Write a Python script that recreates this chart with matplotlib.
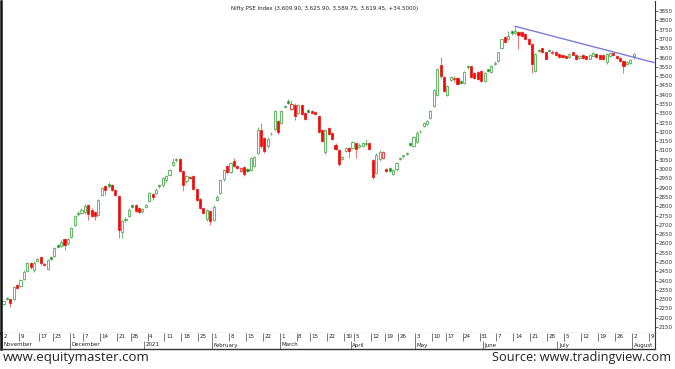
import numpy as np
import pandas as pd
import matplotlib
matplotlib.use("Agg")
import matplotlib.pyplot as plt

# ---------------- data ----------------
holidays = ["2020-11-16", "2020-11-30", "2020-12-25", "2021-01-26", "2021-03-11",
            "2021-03-29", "2021-04-02", "2021-04-14", "2021-04-21", "2021-05-13"]
special_sessions = ["2020-11-14"]  # Diwali muhurat trading
start_date = "2020-11-02"
axis_end_date = "2021-08-11"

opens = [
    # Nov
    2276, 2306, 2299, 2300, 2374, 2372, 2408, 2452, 2494, 2455, 2508, 2526, 2490, 2464, 2525, 2532, 2592, 2588, 2622, 2600,
    # Dec
    2637, 2700, 2766, 2764, 2768, 2805, 2782, 2768, 2752, 2860, 2907, 2922, 2915, 2886, 2857, 2664, 2724, 2750, 2805, 2808, 2790, 2772,
    # Jan
    2795, 2830, 2866, 2870, 2916, 2912, 2940, 2968, 3022, 3046, 3052, 2988, 2935, 2958, 2960, 2892, 2838, 2790, 2730, 2772,
    # Feb
    2728, 2836, 2872, 2944, 3018, 2985, 3042, 3019, 2992, 3011, 3000, 2997, 3018, 3088, 3208, 3168, 3122, 3190, 3214, 3258,
    # Mar
    3250, 3335, 3368, 3322, 3346, 3300, 3346, 3300, 3316, 3312, 3306, 3285, 3212, 3090, 3222, 3195, 3132, 3105, 3055, 3096, 3114,
    # Apr
    3114, 3140, 3120, 3126, 3136, 3140, 3050, 2980, 3052, 3060, 2998, 3006, 2975, 2998, 3055, 3068, 3082, 3138, 3126,
    # May
    3145, 3206, 3232, 3242, 3272, 3340, 3400, 3560, 3495, 3400, 3480, 3482, 3490, 3472, 3464, 3556, 3552, 3518, 3520, 3526,
    # Jun
    3476, 3536, 3520, 3566, 3582, 3652, 3708, 3700, 3744, 3732, 3735, 3736, 3726, 3699, 3672, 3528, 3640, 3649, 3627, 3640, 3624, 3630,
    # Jul
    3618, 3612, 3608, 3603, 3627, 3612, 3598, 3616, 3606, 3594, 3610, 3620, 3612, 3614, 3578, 3610, 3626, 3610, 3598, 3582, 3566, 3572,
    # Aug
    3609.90,
]
highs = [
    2292, 2312, 2303, 2370, 2380, 2410, 2455, 2500, 2500, 2503, 2522, 2532, 2494, 2515, 2530, 2580, 2597, 2618, 2628, 2630,
    2690, 2752, 2774, 2788, 2812, 2812, 2790, 2775, 2838, 2905, 2915, 2928, 2920, 2892, 2862, 2725, 2740, 2788, 2810, 2812, 2795, 2790,
    2812, 2878, 2870, 2896, 2922, 2958, 2966, 3000, 3062, 3060, 3058, 2995, 2970, 2964, 2966, 2898, 2845, 2795, 2784, 2778,
    2804, 2858, 2948, 3000, 3024, 3036, 3060, 3024, 3012, 3016, 3006, 3065, 3070, 3225, 3250, 3174, 3170, 3200, 3320, 3262,
    3318, 3346, 3378, 3372, 3355, 3350, 3352, 3306, 3322, 3318, 3312, 3290, 3218, 3215, 3228, 3200, 3138, 3110, 3072, 3118, 3120,
    3152, 3146, 3138, 3145, 3163, 3146, 3055, 3085, 3100, 3098, 3004, 3012, 3000, 3040, 3066, 3078, 3092, 3144, 3180,
    3202, 3212, 3252, 3262, 3320, 3432, 3545, 3605, 3500, 3452, 3500, 3500, 3496, 3478, 3526, 3562, 3556, 3522, 3526, 3532,
    3522, 3540, 3560, 3580, 3632, 3702, 3714, 3740, 3750, 3768, 3742, 3742, 3730, 3704, 3676, 3624, 3646, 3652, 3632, 3646, 3640, 3634,
    3622, 3616, 3612, 3626, 3632, 3618, 3616, 3620, 3610, 3618, 3628, 3624, 3616, 3618, 3624, 3628, 3630, 3614, 3602, 3586, 3580, 3592,
    3625.90,
]
lows = [
    2270, 2294, 2258, 2296, 2356, 2368, 2402, 2446, 2462, 2444, 2504, 2486, 2476, 2458, 2510, 2527, 2575, 2582, 2566, 2594,
    2630, 2694, 2750, 2758, 2760, 2728, 2740, 2726, 2745, 2855, 2862, 2900, 2880, 2854, 2628, 2628, 2716, 2742, 2790, 2768, 2762, 2766,
    2790, 2824, 2831, 2864, 2900, 2905, 2932, 2962, 3018, 3040, 2982, 2880, 2925, 2948, 2886, 2830, 2785, 2760, 2722, 2700,
    2722, 2830, 2866, 2938, 2975, 2978, 3010, 3002, 2988, 2965, 2984, 2992, 3012, 3080, 3115, 3085, 3114, 3182, 3205, 3188,
    3240, 3328, 3348, 3315, 3265, 3295, 3290, 3265, 3300, 3296, 3290, 3192, 3146, 3082, 3182, 3155, 3100, 3018, 3048, 3090, 3060,
    3108, 3060, 3114, 3120, 3125, 3100, 2945, 2972, 3045, 3052, 2984, 2985, 2966, 2990, 3050, 3062, 3076, 3126, 3120,
    3138, 3196, 3228, 3236, 3268, 3332, 3394, 3490, 3412, 3392, 3474, 3470, 3450, 3460, 3460, 3540, 3488, 3484, 3480, 3470,
    3468, 3520, 3515, 3562, 3578, 3648, 3676, 3694, 3720, 3726, 3645, 3712, 3696, 3668, 3519, 3522, 3630, 3622, 3590, 3628, 3620, 3606,
    3600, 3598, 3596, 3598, 3612, 3588, 3592, 3594, 3588, 3590, 3606, 3600, 3590, 3586, 3565, 3604, 3610, 3590, 3575, 3519, 3560, 3566,
    3589.75,
]
closes = [
    2288, 2300, 2277, 2363, 2360, 2403, 2448, 2493, 2472, 2497, 2515, 2492, 2482, 2510, 2518, 2574, 2583, 2610, 2592, 2623,
    2682, 2745, 2758, 2781, 2803, 2756, 2750, 2746, 2831, 2898, 2888, 2910, 2888, 2862, 2673, 2718, 2733, 2781, 2797, 2776, 2770, 2785,
    2808, 2871, 2850, 2889, 2910, 2950, 2961, 2995, 3040, 3054, 2990, 2915, 2962, 2954, 2890, 2836, 2790, 2765, 2778, 2720,
    2798, 2852, 2942, 2996, 2982, 3030, 3015, 3006, 3004, 2972, 2990, 3058, 3064, 3212, 3124, 3098, 3162, 3186, 3312, 3198,
    3310, 3340, 3354, 3350, 3286, 3342, 3296, 3270, 3308, 3300, 3294, 3198, 3152, 3208, 3188, 3160, 3106, 3026, 3066, 3112, 3097,
    3148, 3106, 3132, 3140, 3142, 3106, 2955, 3076, 3094, 3092, 2990, 2992, 2995, 3035, 3060, 3073, 3087, 3130, 3172,
    3195, 3202, 3248, 3258, 3314, 3425, 3538, 3500, 3420, 3446, 3494, 3490, 3458, 3464, 3520, 3548, 3495, 3490, 3486, 3476,
    3518, 3528, 3555, 3573, 3627, 3698, 3682, 3716, 3730, 3745, 3720, 3716, 3700, 3672, 3564, 3618, 3634, 3627, 3594, 3634, 3630, 3612,
    3605, 3602, 3600, 3620, 3615, 3594, 3610, 3598, 3591, 3614, 3625, 3604, 3594, 3590, 3620, 3622, 3614, 3595, 3582, 3556, 3575, 3584.95,
    3619.45,
]

trend_dates = ["2021-06-14", "2021-08-10"]
trend_values = [3768, 3573]

title_text = "Nifty PSE Index (3,609.90, 3,625.90, 3,589.75, 3,619.45, +34.5000)"
month_names = {11: "November", 12: "December", 1: "2021", 2: "February", 3: "March",
               4: "April", 5: "May", 6: "June", 7: "July", 8: "August"}
y_ticks = np.arange(2150, 3851, 50)

# ---------------- dates ----------------
bd = pd.bdate_range(start_date, axis_end_date)
bd = bd.difference(pd.to_datetime(holidays)).union(pd.to_datetime(special_sessions))
axis_dates = pd.DatetimeIndex(sorted(bd))
n = len(closes)
assert len(opens) == len(highs) == len(lows) == n
dates = axis_dates[:n]
pos = {d: i for i, d in enumerate(axis_dates)}

O = np.array(opens, float); Hh = np.array(highs, float)
L = np.array(lows, float); C = np.array(closes, float)
x = np.arange(n)

# ---------------- figure ----------------
W, H = 675, 369
fig = plt.figure(figsize=(W / 100, H / 100), dpi=100)
fig.patch.set_facecolor("white")
def fx(px): return px / W
def fy(py): return 1 - py / H

left_px, right_px, top_px, bot_px, strip_px = 1, 655, 1, 333, 349
ax = fig.add_axes([fx(left_px), fy(bot_px), fx(right_px) - fx(left_px), fy(top_px) - fy(bot_px)])
axd = fig.add_axes([fx(left_px), fy(strip_px), fx(right_px) - fx(left_px), fy(bot_px) - fy(strip_px)])

xlim = (-0.75, 192.3)
ax.set_xlim(*xlim)
axd.set_xlim(*xlim)
ax.set_ylim(2118, 3904)

# candles
prev = np.r_[O[0], C[:-1]]
hollow = C >= O
gain = C >= prev
g_line, g_fill = "#4caf4c", "#008000"
r_line, r_fill = "#ee2020", "#ff0000"
edge = np.where(gain, g_line, r_line)
face = np.where(hollow, "white", np.where(gain, g_fill, r_fill))
wick = np.where(gain, "#6cbf6c", "#f07070")

ax.vlines(x, L, Hh, colors=wick, linewidth=0.7, zorder=1)
body_lo = np.minimum(O, C)
body_h = np.maximum(np.abs(C - O), 2.0)
ax.bar(x, body_h, bottom=body_lo, width=0.62, color=face, edgecolor=edge,
       linewidth=0.6, zorder=2)

# trend line
tx = [pos[pd.Timestamp(d)] for d in trend_dates]
ax.plot(tx, trend_values, color="#7b7bd8", linewidth=1.0, zorder=3)

# axes styling
ax.spines["top"].set_visible(False)
ax.spines["left"].set_linewidth(1.8)
ax.spines["left"].set_color("#111111")
ax.spines["right"].set_linewidth(0.8)
ax.spines["right"].set_color("#333333")
ax.spines["bottom"].set_linewidth(0.8)
ax.spines["bottom"].set_color("#333333")
ax.set_xticks([])
ax.yaxis.tick_right()
ax.set_yticks(y_ticks)
ax.set_yticklabels([str(v) for v in y_ticks])
ax.tick_params(axis="y", which="both", labelsize=4.0, length=2, width=0.5,
               pad=0.8, colors="#333333", direction="out")

# title
ax.text(0.495, 0.985, title_text, transform=ax.transAxes,
        ha="center", va="top", fontsize=4.0, color="#222222")

# date strip
axd.set_ylim(0, 2)
axd.set_xticks([]); axd.set_yticks([])
axd.spines["top"].set_visible(False)
axd.spines["left"].set_linewidth(1.8); axd.spines["left"].set_color("#111111")
axd.spines["right"].set_linewidth(0.8); axd.spines["right"].set_color("#333333")
axd.spines["bottom"].set_linewidth(1.0); axd.spines["bottom"].set_color("#333333")

wk = axis_dates.isocalendar().week.values
yr = axis_dates.isocalendar().year.values
week_starts = [i for i in range(len(axis_dates)) if i == 0 or (wk[i], yr[i]) != (wk[i - 1], yr[i - 1])]
month_starts = [i for i in range(len(axis_dates)) if i == 0 or axis_dates[i].month != axis_dates[i - 1].month]
for i in week_starts:
    axd.vlines(i - 0.5, 1.0, 2.0, color="#444444", linewidth=0.5)
    axd.text(i - 0.5 + 0.45, 1.5, str(axis_dates[i].day), fontsize=4.0, ha="left",
             va="center", color="#222222")
for i in month_starts:
    axd.vlines(i - 0.5, 0.0, 1.0, color="#444444", linewidth=0.5)
    axd.text(i - 0.5 + 0.45, 0.5, month_names[axis_dates[i].month], fontsize=4.0,
             ha="left", va="center", color="#222222")

# footer
fig.text(fx(3), fy(358), "www.equitymaster.com", fontsize=9.5, family="Open Sans",
         ha="left", va="center", color="#222222")
fig.text(fx(671), fy(358), "Source: www.tradingview.com", fontsize=9.2, family="Open Sans",
         ha="right", va="center", color="#222222")

fig.savefig("out.png", dpi=100, facecolor="white")
